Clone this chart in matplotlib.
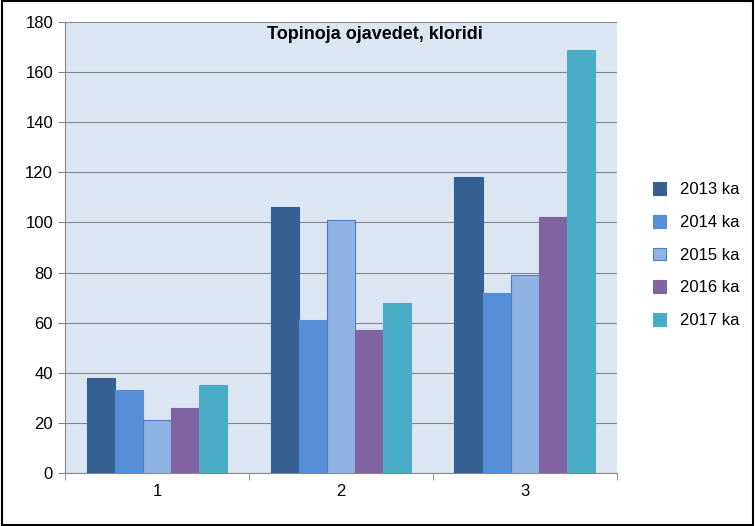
import numpy as np
import matplotlib.pyplot as plt
from matplotlib.patches import Rectangle

categories = ['1', '2', '3']
series_names = ['2013 ka', '2014 ka', '2015 ka', '2016 ka', '2017 ka']
v2013 = [38, 106, 118]
v2014 = [33, 61, 72]
v2015 = [21, 101, 79]
v2016 = [26, 57, 102]
v2017 = [35, 68, 169]
values = [v2013, v2014, v2015, v2016, v2017]
colors = ['#376092', '#558ed5', '#8eb4e3', '#8064a2', '#4bacc6']
edges = ['#376092', '#558ed5', '#4a7ebb', '#8064a2', '#4bacc6']

plt.rcParams['font.family'] = ['Liberation Sans', 'DejaVu Sans']

fig = plt.figure(figsize=(7.55, 5.26), dpi=100)
ax = fig.add_axes([0.086, 0.101, 0.731, 0.857])
ax.set_facecolor('#dce6f2')

x = np.arange(len(categories))
w = 0.153
for i, (vals, c, e, n) in enumerate(zip(values, colors, edges, series_names)):
    ax.bar(x + (i - 2) * w, vals, w, color=c, edgecolor=e, linewidth=0.8, label=n, zorder=3)

ax.set_ylim(0, 180)
ax.set_yticks(range(0, 181, 20))
ax.set_xlim(-0.5, 2.5)
ax.set_xticks(x)
ax.set_xticklabels(categories)
ax.set_xticks([-0.5, 0.5, 1.5, 2.5], minor=True)
ax.tick_params(axis='x', which='major', length=0, pad=8)
ax.tick_params(axis='x', which='minor', length=5, color='#868686')
ax.tick_params(axis='y', length=5, color='#868686', labelsize=12)
ax.tick_params(axis='x', labelsize=12)
ax.grid(axis='y', color='#868686', linewidth=0.8, zorder=0)
for s in ['top', 'right']:
    ax.spines[s].set_visible(False)
for s in ['left', 'bottom']:
    ax.spines[s].set_color('#868686')

fig.text(0.497, 0.935, 'Topinoja ojavedet, kloridi', ha='center', va='center',
         fontsize=13, fontweight='bold')

fig.legend(loc='center left', bbox_to_anchor=(0.845, 0.515), frameon=False,
           fontsize=12, handlelength=0.8, handleheight=0.8, labelspacing=1.05)

fig.patches.append(Rectangle((0.002, 0.002), 0.996, 0.996, transform=fig.transFigure,
                             fill=False, edgecolor='black', linewidth=1.5))
fig.savefig('out.png', dpi=100)
